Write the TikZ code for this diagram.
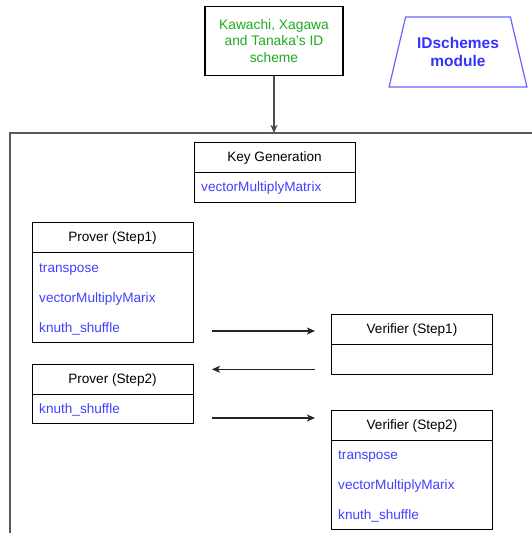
\documentclass[tikz,border=0pt]{standalone}
\usepackage{fontspec}
\setmainfont{Liberation Sans}
\usepackage{xcolor}
\usepackage{tikz}
\usetikzlibrary{shapes.geometric, arrows.meta, positioning}

\definecolor{fnblue}{RGB}{64,64,255}
\definecolor{schemegreen}{RGB}{30,170,30}
\definecolor{modblue}{RGB}{51,51,255}

\begin{document}
\begin{tikzpicture}[
    x=1pt, y=-1pt,
    head/.style={rectangle, draw=black, line width=1pt, outer sep=0pt, minimum width=161pt, minimum height=30pt, inner sep=0pt, text height=11pt, text depth=2.5pt, font=\fontsize{13.6}{16}\selectfont},
    body/.style={rectangle, draw=black, line width=1pt, outer sep=0pt, minimum width=161pt, inner sep=0pt},
    fn/.style={anchor=west, inner sep=0pt, text height=9.5pt, text depth=3pt, text=fnblue, font=\fontsize{13.6}{16}\selectfont},
    arrow/.style={-{Stealth[length=8pt, width=7pt, inset=2pt]}, line width=1.2pt, black!85}
]
\useasboundingbox (0,0) rectangle (532,533);

% source scheme and module label
\node[rectangle, draw=black, line width=1.1pt, minimum width=138pt, minimum height=69pt, align=center, text=schemegreen, font=\fontsize{13.8}{16.5}\selectfont] (scheme) at (274,41) {Kawachi, Xagawa\\and Tanaka's ID\\scheme};
\node[trapezium, trapezium stretches=true, trapezium left angle=68.5, trapezium right angle=68.5, minimum width=138pt, minimum height=70pt, draw=modblue!75, line width=1.2pt, align=center, text=modblue, font=\fontsize{15.5}{17.5}\selectfont\bfseries] (module) at (458,52) {IDschemes\\module};

% container
\draw[black!65, line width=1.4pt] (10,533) -- (10,133) -- (532,133);
\coordinate (boxtop) at (274,133);
\draw[arrow, black!70, line width=1.4pt] (scheme) -- (boxtop);

% key generation
\node[head] (keygen) at (274.5,157) {Key Generation};
\node[body, below=0pt of keygen, minimum height=30pt] (keygenbody) {};
\node[fn] (kgmul) at (201,188) {vectorMultiplyMatrix};

% prover step 1
\node[head] (prover1) at (112.5,237.7) {Prover (Step1)};
\node[body, below=0pt of prover1, minimum height=89.3pt] (prover1body) {};
\node[fn] (p1trans) at (39,269.5) {transpose};
\node[fn] (p1mul) at (39,299.5) {vectorMultiplyMarix};
\node[fn] (p1shuf) at (39,329) {knuth\_shuffle};

% verifier step 1
\node[head] (verifier1) at (412,329.7) {Verifier (Step1)};
\node[body, below=0pt of verifier1, minimum height=29.6pt] (verifier1body) {};

% prover step 2
\node[head] (prover2) at (112.5,379) {Prover (Step2)};
\node[body, below=0pt of prover2, minimum height=29pt] (prover2body) {};
\node[fn] (p2shuf) at (39,410.5) {knuth\_shuffle};

% verifier step 2
\node[head] (verifier2) at (412,425) {Verifier (Step2)};
\node[body, below=0pt of verifier2, minimum height=89pt] (verifier2body) {};
\node[fn] (v2trans) at (338,456) {transpose};
\node[fn] (v2mul) at (338,486) {vectorMultiplyMarix};
\node[fn] (v2shuf) at (338,516) {knuth\_shuffle};

% messages
\coordinate (m1from) at (212,331);
\coordinate (m1to) at (315,331);
\coordinate (m2from) at (315,369.3);
\coordinate (m2to) at (212,369.3);
\coordinate (m3from) at (212,418);
\coordinate (m3to) at (315,418);
\draw[arrow] (m1from) -- (m1to);
\draw[arrow] (m2from) -- (m2to);
\draw[arrow] (m3from) -- (m3to);

\end{tikzpicture}
\end{document}
